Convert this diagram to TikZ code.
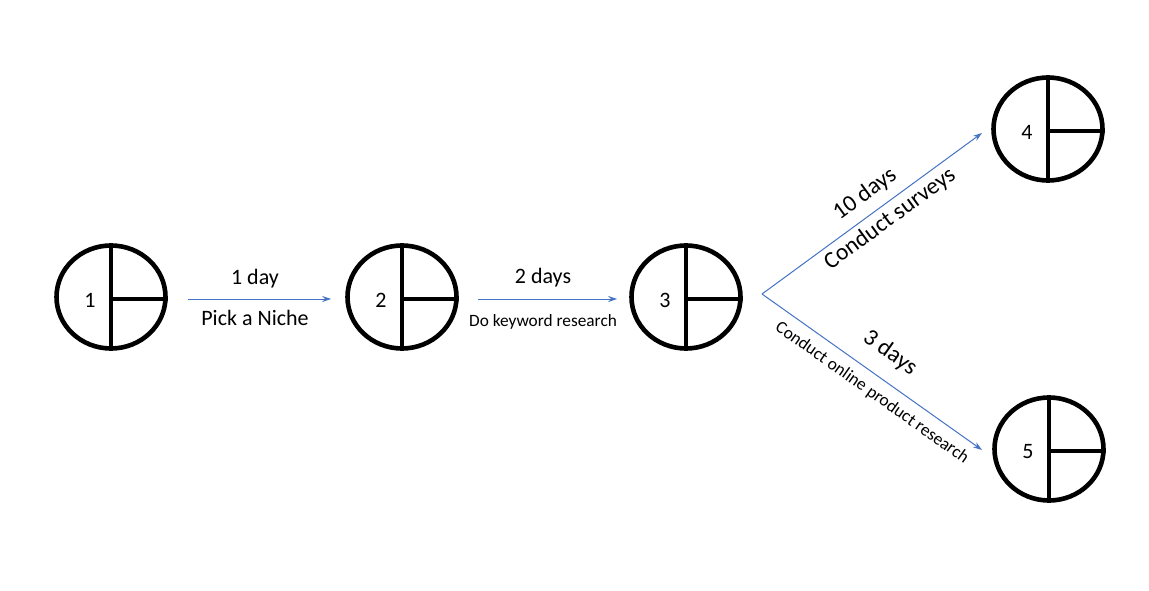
\documentclass[tikz,border=0pt]{standalone}
\usepackage{fontspec}
\setmainfont{Carlito}
\usetikzlibrary{shapes.geometric,arrows.meta}
\begin{document}
\begin{tikzpicture}[x=1pt,y=-1pt,
  evt/.style={ellipse,draw,line width=4.6pt,minimum width=109pt,minimum height=103pt,inner sep=0pt},
  inner/.style={line width=4pt},
  num/.style={font=\fontsize{22}{26}\selectfont},
  lab/.style={font=\fontsize{22}{26}\selectfont,anchor=base},
  slab/.style={font=\fontsize{17.3}{20}\selectfont,anchor=base},
  rlab/.style={font=\fontsize{23.5}{28}\selectfont},
  rslab/.style={font=\fontsize{17.5}{21}\selectfont},
]
\useasboundingbox (0,0) rectangle (1149,591);
\definecolor{arrblue}{HTML}{4472C4}
\tikzset{arr/.style={draw=arrblue,line width=1pt,-{Stealth[length=9pt,width=6pt]}}}

\foreach \n/\x/\y in {1/111/297,2/402/297,3/686/297,4/1048/129,5/1049/449}{
  \node[evt] (n\n) at (\x,\y) {};
  \draw[inner] (n\n.north) -- (n\n.south);
  \draw[inner] ([yshift=-2pt]n\n.center) -- ([yshift=-2pt]n\n.east);
  \node[num] (t\n) at ([xshift=-21pt,yshift=-3pt]n\n.center) {\n};
}

\coordinate (a1s) at ([xshift=20pt,yshift=-2pt]n1.east);
\coordinate (a1e) at ([xshift=-14pt,yshift=-2pt]n2.west);
\draw[arr] (a1s) -- (a1e);
\node[lab] (l1a) at (255,284) {1 day};
\node[lab] (l1b) at (255,325) {Pick a Niche};

\coordinate (a2s) at ([xshift=19pt,yshift=-2pt]n2.east);
\coordinate (a2e) at ([xshift=-12pt,yshift=-2pt]n3.west);
\draw[arr] (a2s) -- (a2e);
\node[lab] (l2a) at (543,283) {2 days};
\node[slab] (l2b) at (543,326) {Do keyword research};

\coordinate (br) at (762,294);
\coordinate (e4) at (982,133);
\coordinate (e5) at (982,450);
\draw[arr] (br) -- (e4);
\draw[arr] (br) -- (e5);
\node[rlab,rotate=36.2] (l3a) at (865,194) {10 days};
\node[rlab,rotate=36.2] (l3b) at (890,219) {Conduct surveys};
\node[rlab,rotate=-35.3] (l4a) at (890,353) {3 days};
\node[rslab,rotate=-35.3] (l4b) at (872,393) {Conduct online product research};
\end{tikzpicture}
\end{document}
